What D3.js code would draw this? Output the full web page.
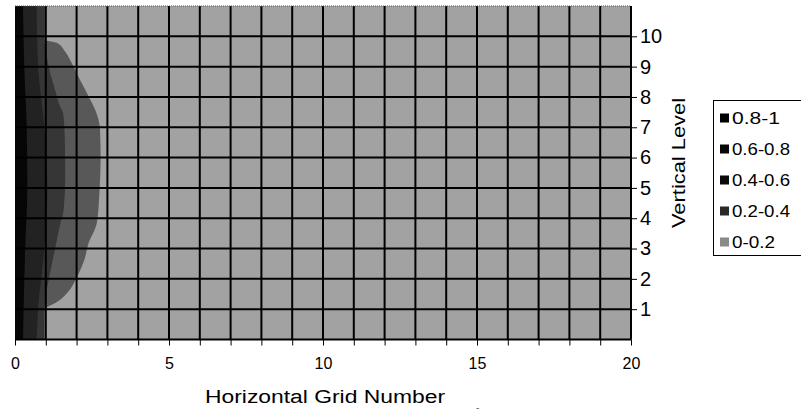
<!DOCTYPE html>
<html><head><meta charset="utf-8">
<script src="https://cdn.jsdelivr.net/npm/d3@7"></script>
<style>html,body{margin:0;padding:0;background:#fff;}svg{display:block;font-family:"Liberation Sans",Arial,sans-serif;}</style>
</head><body>
<svg id="chart" width="801" height="418"></svg>
<script>
// ---- data ----
const bandLabels = ["0.8-1", "0.6-0.8", "0.4-0.6", "0.2-0.4", "0-0.2"];
const xTicks = [0, 5, 10, 15, 20];
const yTicks = [1, 2, 3, 4, 5, 6, 7, 8, 9, 10];
// boundary of the region with value >= 0.2 (level, horizontal grid number)
const edge02Level = [11, 9.89, 9.79, 9.51, 9.12, 8.79, 8.35, 7.92, 7.59, 6.93, 5.94, 4.85, 3.86, 3.12, 2.69, 2.06, 1.57, 1.24, 1.07, 1.03, 0];
const edge02X     = [0.97, 0.97, 1.35, 1.62, 1.84, 2.0, 2.22, 2.44, 2.6, 2.76, 2.78, 2.74, 2.66, 2.37, 2.27, 2.01, 1.72, 1.36, 1.04, 0.96, 0.96];
// boundary of value >= 0.4
const edge04Level = [11, 9.89, 9.34, 8.79, 8.24, 7.69, 7.42, 6.49, 5.37, 4.28, 3.78, 3.23, 2.69, 1.9, 1.24, 0.48, 0];
const edge04X     = [0.96, 0.96, 1.03, 1.14, 1.3, 1.46, 1.57, 1.62, 1.63, 1.58, 1.46, 1.35, 1.24, 1.08, 0.97, 0.95, 0.95];
// boundary of value >= 0.6
const edge06Level = [11, 9, 7, 5, 3, 1, 0];
const edge06X     = [0.7, 0.75, 0.95, 1.05, 0.95, 0.75, 0.7];
// boundary of value >= 0.8
const edge08Level = [11, 9, 7, 5, 3, 1, 0];
const edge08X     = [0.26, 0.3, 0.38, 0.4, 0.33, 0.28, 0.26];

// ---- drawing ----
const svg = d3.select("#chart");
const x = d3.scaleLinear().domain([0, 20]).range([15, 631]);
const y = d3.scaleLinear().domain([0, 11]).range([339.5, 6]);
const colors = ["#060606", "#222222", "#363636", "#585858", "#a2a2a2"];

// background band 0-0.2
svg.append("rect").attr("x", x(0)).attr("y", y(11)).attr("width", x(20) - x(0)).attr("height", y(0) - y(11)).attr("fill", colors[4]);

const edges = [
  [edge02Level, edge02X, colors[3]],
  [edge04Level, edge04X, colors[2]],
  [edge06Level, edge06X, colors[1]],
  [edge08Level, edge08X, colors[0]]
];
const area = d3.area().curve(d3.curveMonotoneY)
  .y(d => y(d[0])).x0(x(0)).x1(d => x(d[1]));
edges.forEach(([lv, xs, c]) => {
  const pts = lv.map((l, i) => [l, xs[i]]);
  svg.append("path").attr("d", area(pts)).attr("fill", c);
});

// grid lines
const g = svg.append("g");
d3.range(1, 21).forEach(v => {
  g.append("line").attr("x1", x(v)).attr("x2", x(v)).attr("y1", y(11)).attr("y2", y(0))
    .attr("stroke", "#000").attr("stroke-width", 2);
});
d3.range(0, 11).forEach(v => {
  g.append("line").attr("x1", x(0)).attr("x2", x(20)).attr("y1", y(v)).attr("y2", y(v))
    .attr("stroke", "#000").attr("stroke-width", 2);
});
g.append("line").attr("x1", x(0)).attr("x2", x(20)).attr("y1", y(11)).attr("y2", y(11))
  .attr("stroke", "#555").attr("stroke-width", 1).attr("stroke-dasharray", "1,1");

// bottom axis
const xAxis = d3.axisBottom(x).tickValues(d3.range(0, 21)).tickSize(6)
  .tickFormat(d => xTicks.includes(d) ? d : "");
const xa = svg.append("g").attr("transform", `translate(0,${y(0)})`).call(xAxis);
xa.select(".domain").remove();
xa.selectAll("line").attr("stroke", "#000");
xa.selectAll("text").attr("font-size", 16).attr("fill", "#000").attr("dy", "1.25em")
  .attr("font-family", "Liberation Sans, Arial, sans-serif");

// right axis
const yAxis = d3.axisRight(y).tickValues(yTicks).tickSize(6).tickPadding(3);
const ya = svg.append("g").attr("transform", `translate(${x(20)},0)`).call(yAxis);
ya.select(".domain").remove();
ya.selectAll("line").attr("stroke", "#000");
ya.selectAll("text").attr("font-size", 20).attr("fill", "#000")
  .attr("font-family", "Liberation Sans, Arial, sans-serif");

// axis titles
svg.append("text").attr("x", 205).attr("y", 403).attr("font-size", 18)
  .attr("textLength", 240).attr("lengthAdjust", "spacingAndGlyphs")
  .text("Horizontal Grid Number");
svg.append("text").attr("x", 476).attr("y", 411).attr("font-size", 10).attr("fill", "#666").text("-");
svg.append("text").attr("transform", "translate(685,228) rotate(-90)").attr("font-size", 18)
  .attr("textLength", 130).attr("lengthAdjust", "spacingAndGlyphs")
  .text("Vertical Level");

// legend
const lg = svg.append("g");
lg.append("rect").attr("x", 713.5).attr("y", 100.5).attr("width", 100).attr("height", 155)
  .attr("fill", "#fff").attr("stroke", "#000");
const legendLen = [48, 58, 58, 58, 43];
const legendColors = ["#000", "#080808", "#0a0a0a", "#2a2a2a", "#8a8a8a"];
bandLabels.forEach((t, i) => {
  const cy = 118 + i * 31;
  lg.append("rect").attr("x", 720).attr("y", cy - 4.5).attr("width", 9).attr("height", 9).attr("fill", legendColors[i]);
  lg.append("text").attr("x", 732).attr("y", cy + 6).attr("font-size", 16.5)
    .attr("textLength", legendLen[i]).attr("lengthAdjust", "spacingAndGlyphs").text(t);
});
</script>
</body></html>
